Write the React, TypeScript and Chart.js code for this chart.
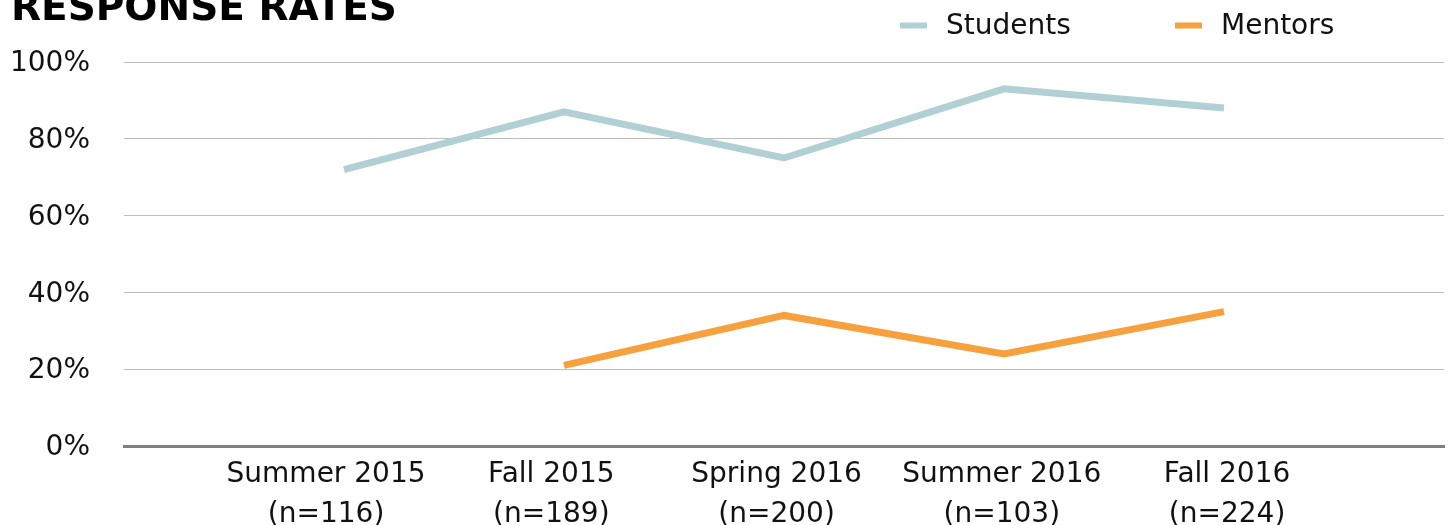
import React, { useEffect, useRef } from "react";
import { Chart, registerables } from "chart.js";

Chart.register(...registerables);

const categories: string[][] = [
  [""],
  ["Summer 2015", "(n=116)"],
  ["Fall 2015", "(n=189)"],
  ["Spring 2016", "(n=200)"],
  ["Summer 2016", "(n=103)"],
  ["Fall 2016", "(n=224)"],
  [""],
];
const students: (number | null)[] = [null, 72, 87, 75, 93, 88, null];
const mentors: (number | null)[] = [null, null, 21, 34, 24, 35, null];
const yTicks: number[] = [0, 20, 40, 60, 80, 100];
const labelSlots: number[] = [1, 2, 3, 4, 5];

const FONT = "'DejaVu Sans', sans-serif";
const STUDENT_COLOR = "#b1d0d3";
const MENTOR_COLOR = "#f7a13e";

const overlayPlugin = {
  id: "overlay",
  afterDraw(chart: any) {
    const ctx = chart.ctx;
    ctx.save();
    ctx.fillStyle = "#000";
    ctx.font = `bold 39px ${FONT}`;
    ctx.textBaseline = "alphabetic";
    ctx.textAlign = "left";
    ctx.fillText("RESPONSE RATES", 11, 20);

    const items = [
      { label: "Students", color: STUDENT_COLOR, x: 900, tx: 946 },
      { label: "Mentors", color: MENTOR_COLOR, x: 1175, tx: 1221 },
    ];
    ctx.font = `28px ${FONT}`;
    ctx.textBaseline = "middle";
    for (const it of items) {
      ctx.strokeStyle = it.color;
      ctx.lineWidth = 6;
      ctx.beginPath();
      ctx.moveTo(it.x, 25.5);
      ctx.lineTo(it.x + 27, 25.5);
      ctx.stroke();
      ctx.fillStyle = "#111";
      ctx.fillText(it.label, it.tx, 27);
    }
    ctx.restore();
  },
};

export default function App() {
  const ref = useRef<HTMLCanvasElement | null>(null);
  useEffect(() => {
    if (!ref.current) return;
    const chart = new Chart(ref.current, {
      type: "line",
      data: {
        labels: categories,
        datasets: [
          {
            label: "Students",
            data: students,
            borderColor: STUDENT_COLOR,
            backgroundColor: STUDENT_COLOR,
            borderWidth: 7,
            pointRadius: 0,
            tension: 0,
          },
          {
            label: "Mentors",
            data: mentors,
            borderColor: MENTOR_COLOR,
            backgroundColor: MENTOR_COLOR,
            borderWidth: 7,
            pointRadius: 0,
            tension: 0,
          },
        ],
      },
      options: {
        animation: false,
        responsive: true,
        maintainAspectRatio: false,
        layout: { padding: { top: 62, left: 0, right: 4, bottom: 0 } },
        plugins: {
          legend: { display: false },
          title: { display: false },
          tooltip: { enabled: false },
        },
        scales: {
          x: {
            offset: false,
            grid: { display: false, drawTicks: false },
            border: { display: true, color: "#808080", width: 3 },
            ticks: { display: false },
            afterFit: (axis: any) => {
              axis.height = 0;
              axis.paddingLeft = 0;
              axis.paddingRight = 0;
            },
          },
          x2: {
            type: "linear",
            position: "bottom",
            min: 0.103,
            max: 5.963,
            afterBuildTicks: (axis: any) => {
              axis.ticks = labelSlots.map((v) => ({ value: v }));
            },
            grid: { display: false, drawTicks: false },
            border: { display: false },
            ticks: {
              color: "#111",
              font: { family: FONT, size: 28, lineHeight: 1.43 },
              padding: 9,
              maxRotation: 0,
              autoSkip: false,
              callback: (v: any) => categories[Math.round(Number(v))],
            },
            afterFit: (axis: any) => {
              axis.height = 79;
              axis.paddingLeft = 0;
              axis.paddingRight = 0;
            },
          },
          y: {
            min: 0,
            max: 100,
            afterBuildTicks: (axis: any) => {
              axis.ticks = yTicks.map((v) => ({ value: v }));
            },
            grid: {
              color: "#bdbdbd",
              lineWidth: 1,
              drawTicks: false,
            },
            border: { display: false },
            ticks: {
              color: "#111",
              font: { family: FONT, size: 28 },
              padding: 34,
              labelOffset: 2,
              callback: (v: any) => `${v}%`,
            },
            afterFit: (axis: any) => {
              axis.width = 124;
              axis.paddingTop = 0;
              axis.paddingBottom = 0;
            },
          },
        },
      },
      plugins: [overlayPlugin],
    });
    return () => chart.destroy();
  }, []);
  return (
    <div style={{ position: "fixed", left: 0, top: 0, width: 1448, height: 525, background: "#fff" }}>
      <canvas ref={ref} />
    </div>
  );
}
